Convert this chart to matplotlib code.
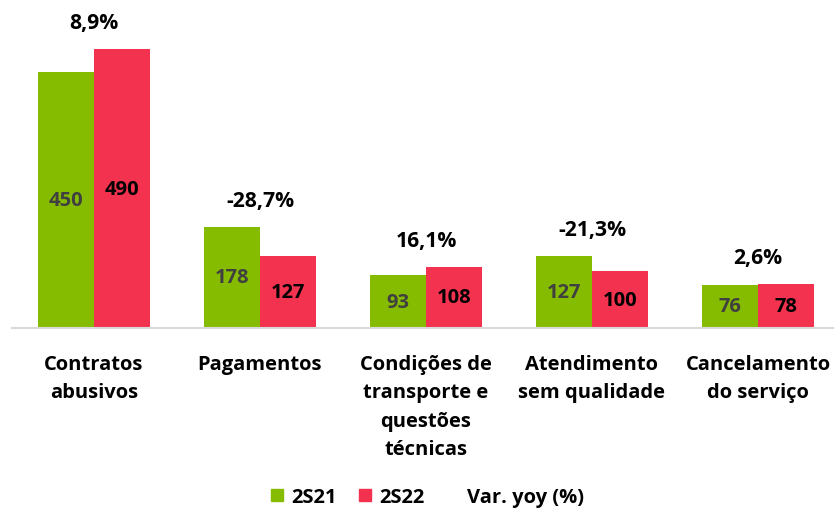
import matplotlib.pyplot as plt
import numpy as np
from matplotlib.patches import Patch
from matplotlib.lines import Line2D

# data
categories = ['Contratos\nabusivos', 'Pagamentos', 'Condições de\ntransporte e\nquestões\ntécnicas',
              'Atendimento\nsem qualidade', 'Cancelamento\ndo serviço']
v_2s21 = [450, 178, 93, 127, 76]
v_2s22 = [490, 127, 108, 100, 78]
var_yoy = ['8,9%', '-28,7%', '16,1%', '-21,3%', '2,6%']

GREEN = '#86BC00'
RED = '#F3324F'

plt.rc('font', family=['Open Sans', 'DejaVu Sans'], weight='bold', size=14.5)

fig = plt.figure(figsize=(8.34, 5.10), dpi=100)
ax = fig.add_axes([12/834, 1 - 329/510, 822/834, 329/510])

x = np.arange(len(categories))
w = 0.34
b1 = ax.bar(x - w/2, v_2s21, w, color=GREEN)
b2 = ax.bar(x + w/2, v_2s22, w, color=RED)

# values inside the bars
ax.bar_label(b1, label_type='center', color='#404040', fontsize=14.5)
ax.bar_label(b2, label_type='center', color='black', fontsize=14.5)

# yoy change above each group
for i, txt in enumerate(var_yoy):
    top = max(v_2s21[i], v_2s22[i])
    ax.annotate(txt, (x[i], top), xytext=(0, 19), textcoords='offset points',
                ha='center', va='center', fontsize=15.2)

ax.set_xlim(-0.494, 4.458)
ax.set_ylim(0, 578)
ax.set_yticks([])
ax.set_xticks(x)
ax.set_xticklabels(categories, linespacing=1.57, va='top', fontsize=14.5)
ax.tick_params(axis='x', length=0, pad=18.5)
for s in ['top', 'right', 'left']:
    ax.spines[s].set_visible(False)
ax.spines['bottom'].set_color('#D9D9D9')
ax.spines['bottom'].set_linewidth(1.5)

handles = [Patch(color=GREEN), Patch(color=RED), Line2D([], [], color='none')]
fig.legend(handles, ['2S21', '2S22', 'Var. yoy (%)'], loc='center left', ncol=3,
           bbox_to_anchor=(253/834, 1 - 498/510), frameon=False, fontsize=14.5,
           handlelength=0.6, handleheight=0.6, handletextpad=0.4, columnspacing=1.1)

fig.savefig('out.png', dpi=100)
